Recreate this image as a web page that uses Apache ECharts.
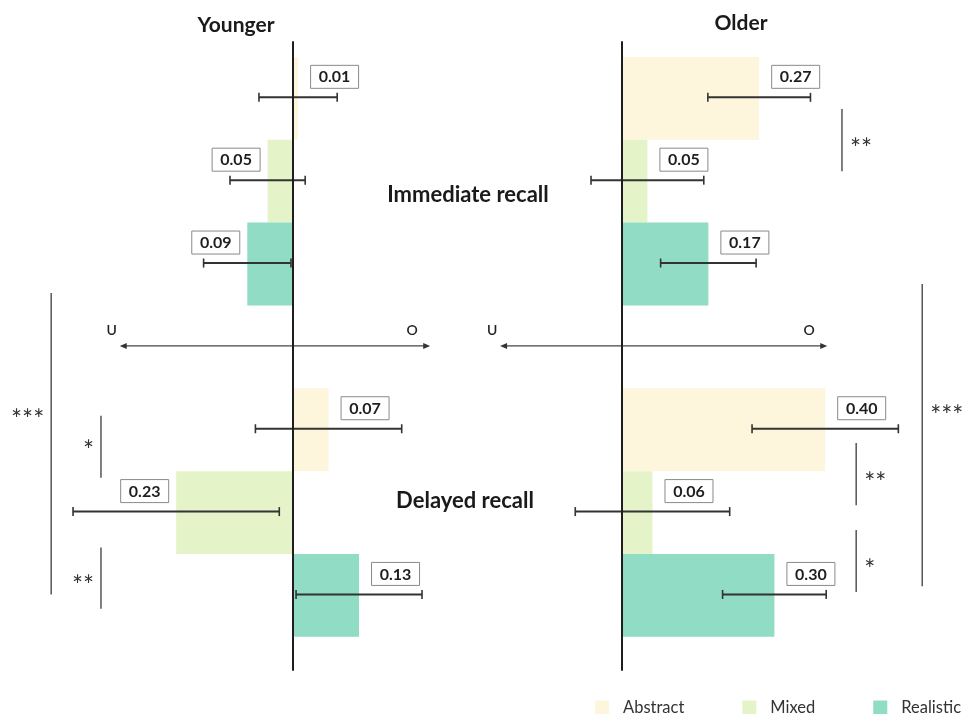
<!DOCTYPE html>
<html>
<head>
<meta charset="utf-8">
<script src="https://cdn.jsdelivr.net/npm/echarts@6/dist/echarts.min.js"></script>
<style>
  html, body { margin: 0; padding: 0; background: #ffffff; }
  #chart { width: 968px; height: 714px; }
</style>
</head>
<body>
<div id="chart"></div>
<script>
// Conditions, recall phases and age groups
const conditions = ['Abstract', 'Mixed', 'Realistic'];
const phases = ['Immediate recall', 'Delayed recall'];
const groups = ['Younger', 'Older'];

// Mean signed bias per condition (negative = under, positive = over)
const youngerImmediate = [0.01, -0.05, -0.09];
const youngerDelayed = [0.07, -0.23, 0.13];
const olderImmediate = [0.27, 0.05, 0.17];
const olderDelayed = [0.40, 0.06, 0.30];

// Half-width of each error bar
const youngerImmediateErr = [0.077, 0.074, 0.086];
const youngerDelayedErr = [0.144, 0.203, 0.124];
const olderImmediateErr = [0.101, 0.111, 0.094];
const olderDelayedErr = [0.144, 0.152, 0.102];

// Significance marks between conditions
const youngerStars = ['***', '*', '**'];
const olderStars = ['**', '***', '**', '*'];

const FONT = 'Lato, "Noto Sans", sans-serif';
const colors = { Abstract: '#FDF5DC', Mixed: '#E4F3C8', Realistic: '#90DCC5' };

// Row index on the shared vertical scale: 0..2 immediate, 4..6 delayed
function rowOf(phaseIdx, condIdx) { return phaseIdx * 4 + condIdx; }

const panels = [
  {
    values: [youngerImmediate, youngerDelayed],
    errs: [youngerImmediateErr, youngerDelayedErr],
    grid: { left: 13.6, width: 482.6 },
    xMin: -0.55, xMax: 0.40,
    arrow: [-0.341, 0.270],
    // bracket layout: [x, rowFrom, rowTo, starRow, side]
    brackets: [
      [-0.476, 2.35, 5.99, 3.80, 'left'],
      [-0.378, 3.83, 4.58, 4.18, 'left'],
      [-0.378, 5.42, 6.16, 5.81, 'left']
    ],
    stars: youngerStars
  },
  {
    values: [olderImmediate, olderDelayed],
    errs: [olderImmediateErr, olderDelayedErr],
    grid: { left: 495, width: 457.2 },
    xMin: -0.25, xMax: 0.65,
    arrow: [-0.240, 0.404],
    brackets: [
      [0.433, 0.13, 0.88, 0.53, 'right'],
      [0.591, 2.24, 5.89, 3.76, 'right'],
      [0.461, 4.16, 4.91, 4.56, 'right'],
      [0.461, 5.21, 5.96, 5.61, 'right']
    ],
    stars: olderStars
  }
];

function renderBar(params, api) {
  const v = api.value(0), row = api.value(1), err = api.value(2);
  const a = api.coord([0, row - 0.5]);
  const b = api.coord([v, row + 0.5]);
  const c = api.coord([v, row]);
  const lo = api.coord([v - err, row]);
  const hi = api.coord([v + err, row]);
  const ey = c[1] - 1;
  const boxW = 48, boxH = 23;
  const boxX = v >= 0 ? c[0] + 12 : c[0] - 8 - boxW;
  const boxY = c[1] - 22 - boxH / 2;
  return {
    type: 'group',
    children: [
      {
        type: 'rect',
        shape: { x: Math.min(a[0], b[0]), y: a[1], width: Math.abs(b[0] - a[0]), height: b[1] - a[1] },
        style: { fill: api.visual('color') }
      },
      { type: 'line', shape: { x1: lo[0], y1: ey, x2: hi[0], y2: ey }, style: { stroke: '#333', lineWidth: 2 } },
      { type: 'line', shape: { x1: lo[0], y1: ey - 4.5, x2: lo[0], y2: ey + 4.5 }, style: { stroke: '#333', lineWidth: 1.6 } },
      { type: 'line', shape: { x1: hi[0], y1: ey - 4.5, x2: hi[0], y2: ey + 4.5 }, style: { stroke: '#333', lineWidth: 1.6 } },
      {
        type: 'rect',
        shape: { x: boxX + 0.5, y: boxY + 0.5, width: boxW, height: boxH },
        style: { fill: '#ffffff', stroke: '#8a8a8a', lineWidth: 1 }
      },
      {
        type: 'text',
        style: {
          text: Math.abs(v).toFixed(2), x: boxX + boxW / 2 + 0.5, y: boxY + boxH / 2 + 1,
          align: 'center', verticalAlign: 'middle', font: 'bold 16px ' + FONT, fill: '#1e1e1e'
        }
      }
    ]
  };
}

function makeBracketRenderer(panel) {
  return function (params, api) {
    const i = params.dataIndex;
    const br = panel.brackets[i];
    const p1 = api.coord([br[0], br[1]]);
    const p2 = api.coord([br[0], br[2]]);
    const ps = api.coord([br[0], br[3]]);
    const left = br[4] === 'left';
    return {
      type: 'group',
      children: [
        { type: 'line', shape: { x1: p1[0], y1: p1[1], x2: p2[0], y2: p2[1] }, style: { stroke: '#555', lineWidth: 1.5 } },
        {
          type: 'text',
          style: {
            text: panel.stars[i], x: left ? p1[0] - 7 : p1[0] + 8, y: ps[1] + 7,
            align: left ? 'right' : 'left', verticalAlign: 'middle',
            font: '26px ' + FONT, fill: '#333'
          }
        }
      ]
    };
  };
}

function renderArrow(params, api) {
  const row = 3;
  const l = api.coord([api.value(0), row]);
  const r = api.coord([api.value(1), row]);
  const y = l[1] - 1;
  return {
    type: 'group',
    children: [
      { type: 'line', shape: { x1: l[0] + 3, y1: y, x2: r[0] - 3, y2: y }, style: { stroke: '#444', lineWidth: 1.3 } },
      { type: 'polygon', shape: { points: [[l[0], y], [l[0] + 7, y - 3], [l[0] + 7, y + 3]] }, style: { fill: '#333' } },
      { type: 'polygon', shape: { points: [[r[0], y], [r[0] - 7, y - 3], [r[0] - 7, y + 3]] }, style: { fill: '#333' } },
      { type: 'text', style: { text: 'U', x: l[0] - 8, y: y - 15, align: 'center', verticalAlign: 'middle', font: '600 14px ' + FONT, fill: '#222' } },
      { type: 'text', style: { text: 'O', x: r[0] - 18, y: y - 15, align: 'center', verticalAlign: 'middle', font: '600 14px ' + FONT, fill: '#222' } }
    ]
  };
}

const grids = [], xAxes = [], yAxes = [], series = [];
panels.forEach((panel, pi) => {
  grids.push({ left: panel.grid.left, width: panel.grid.width, top: 42, bottom: 44 });
  xAxes.push({
    type: 'value', gridIndex: pi, min: panel.xMin, max: panel.xMax,
    axisLine: { show: false }, axisTick: { show: false }, axisLabel: { show: false }, splitLine: { show: false }
  });
  yAxes.push({
    type: 'value', gridIndex: pi, inverse: true, min: -0.68, max: 6.9, z: 10,
    axisLine: { show: true, onZero: true, lineStyle: { color: '#1e1e1e', width: 2 } },
    axisTick: { show: false }, axisLabel: { show: false }, splitLine: { show: false }
  });
  conditions.forEach((cond, ci) => {
    const data = phases.map((ph, phi) => [panel.values[phi][ci], rowOf(phi, ci), panel.errs[phi][ci]]);
    series.push({
      name: cond, type: 'custom', xAxisIndex: pi, yAxisIndex: pi,
      itemStyle: { color: colors[cond] },
      renderItem: renderBar, data: data, z: 2, silent: true
    });
  });
  series.push({
    type: 'custom', xAxisIndex: pi, yAxisIndex: pi, renderItem: renderArrow,
    data: [[panel.arrow[0], panel.arrow[1]]], z: 3, silent: true
  });
  series.push({
    type: 'custom', xAxisIndex: pi, yAxisIndex: pi, renderItem: makeBracketRenderer(panel),
    data: panel.brackets.map(b => [b[0], b[1]]), z: 3, silent: true
  });
});

const chart = echarts.init(document.getElementById('chart'), null, { renderer: 'canvas' });
chart.setOption({
  animation: false,
  backgroundColor: '#ffffff',
  grid: grids,
  xAxis: xAxes,
  yAxis: yAxes,
  series: series,
  legend: {
    data: conditions, left: 590, top: 694, icon: 'rect', itemWidth: 14, itemHeight: 14,
    itemGap: 58, selectedMode: false,
    textStyle: { fontFamily: FONT, fontSize: 16.5, color: '#333', padding: [0, 0, 0, 9] }
  },
  graphic: [
    { type: 'text', x: 236, y: 25, style: { text: groups[0], align: 'center', verticalAlign: 'middle', font: 'bold 21px ' + FONT, fill: '#1a1a1a' } },
    { type: 'text', x: 741, y: 23, style: { text: groups[1], align: 'center', verticalAlign: 'middle', font: 'bold 21px ' + FONT, fill: '#1a1a1a' } },
    { type: 'text', x: 468, y: 195, style: { text: phases[0], align: 'center', verticalAlign: 'middle', font: 'bold 22px ' + FONT, fill: '#1a1a1a' } },
    { type: 'text', x: 465, y: 501, style: { text: phases[1], align: 'center', verticalAlign: 'middle', font: 'bold 22px ' + FONT, fill: '#1a1a1a' } }
  ]
});
</script>
</body>
</html>
